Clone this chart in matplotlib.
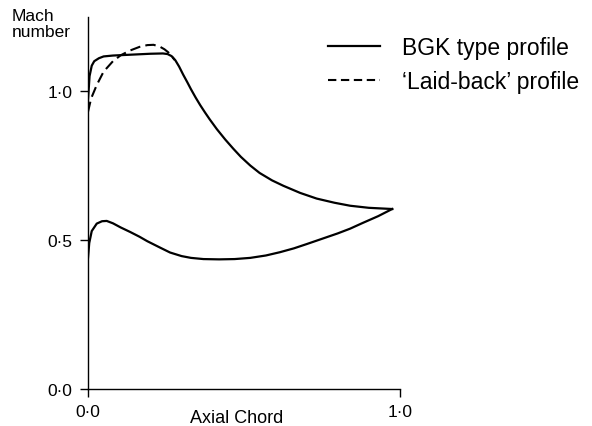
import matplotlib
matplotlib.use('Agg')
import matplotlib.pyplot as plt

plt.rcParams['font.family'] = ['Liberation Sans', 'DejaVu Sans']

# upper surface, BGK type profile (solid)
x_bgk = [0.0, 0.005, 0.012, 0.02, 0.035, 0.05, 0.08, 0.12, 0.16, 0.2, 0.24, 0.255, 0.268, 0.28,
         0.292, 0.305, 0.318, 0.33, 0.345, 0.36, 0.375, 0.39, 0.413, 0.44, 0.466, 0.49, 0.52, 0.55,
         0.59, 0.626, 0.68, 0.733, 0.79, 0.84, 0.9, 0.975]
m_bgk = [0.97, 1.05, 1.085, 1.100, 1.110, 1.116, 1.119, 1.121, 1.123, 1.125, 1.126, 1.124, 1.117, 1.103,
         1.082, 1.055, 1.03, 1.006, 0.978, 0.952, 0.928, 0.905, 0.872, 0.837, 0.806, 0.779, 0.750, 0.725,
         0.700, 0.682, 0.658, 0.639, 0.625, 0.615, 0.608, 0.604]

# upper surface, 'laid-back' profile (dashed, front part only)
x_laid = [0.0, 0.01, 0.028, 0.05, 0.08, 0.105, 0.135, 0.165, 0.19, 0.21, 0.23, 0.245, 0.257, 0.268, 0.278]
m_laid = [0.93, 0.975, 1.02, 1.065, 1.10, 1.12, 1.136, 1.148, 1.154, 1.155, 1.149, 1.14, 1.13, 1.117, 1.104]

# lower surface (shared)
x_low = [0.0, 0.004, 0.012, 0.028, 0.045, 0.06, 0.08, 0.105, 0.135, 0.165, 0.19, 0.23, 0.263,
         0.3, 0.33, 0.37, 0.42, 0.47, 0.52, 0.57, 0.615, 0.66, 0.7, 0.75, 0.8, 0.84, 0.88, 0.93, 0.975]
m_low = [0.44, 0.49, 0.53, 0.555, 0.563, 0.564, 0.556, 0.542, 0.527, 0.511, 0.496, 0.475, 0.458,
         0.446, 0.44, 0.436, 0.435, 0.436, 0.44, 0.448, 0.459, 0.472, 0.486, 0.504, 0.522, 0.538,
         0.557, 0.58, 0.604]

x_ticks = [0.0, 1.0]
x_labels = ['0·0', '1·0']
y_ticks = [0.0, 0.5, 1.0]
y_labels = ['0·0', '0·5', '1·0']

fig = plt.figure(figsize=(5.92, 4.27), dpi=100)
ax = fig.add_axes([88/592, 37/427, 312/592, 372.5/427])
ax.set_xlim(0, 1.0); ax.set_ylim(0, 1.25)

ax.plot(x_bgk, m_bgk, color='black', lw=1.6, label='BGK type profile')
ax.plot(x_laid, m_laid, color='black', lw=1.5, dashes=(5, 2.5), label='\u2018Laid-back\u2019 profile')
ax.plot(x_low, m_low, color='black', lw=1.6)

for s in ['top', 'right']:
    ax.spines[s].set_visible(False)
for s in ['left', 'bottom']:
    ax.spines[s].set_linewidth(1.0)

ax.set_xticks(x_ticks); ax.set_xticklabels(x_labels)
ax.set_yticks(y_ticks); ax.set_yticklabels(y_labels)
ax.tick_params(length=6, width=1.0, labelsize=12.5, pad=5)

ax.text(0.477, -0.076, 'Axial Chord', transform=ax.transAxes, ha='center', va='center', fontsize=13)
fig.text(12/592, 1 - 9/427, 'Mach\nnumber', ha='left', va='top', fontsize=12.5, linespacing=1.1)

leg = fig.legend(loc='upper left', bbox_to_anchor=(328/592, 1 - 37/427), frameon=False,
                 fontsize=16.5, handlelength=2.27, handletextpad=0.95, labelspacing=0.5,
                 borderpad=0, borderaxespad=0)
leg.get_lines()[1].set_dashes((4, 2.2))

fig.savefig('out.png', dpi=100)
